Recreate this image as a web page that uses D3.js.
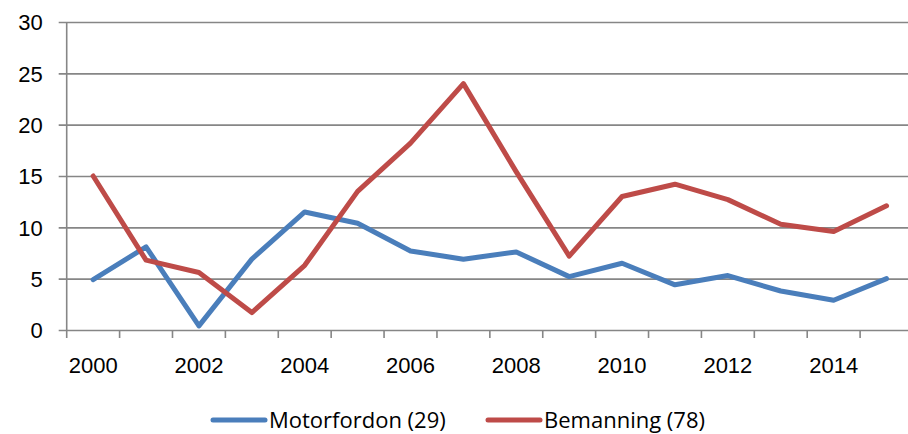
<!DOCTYPE html>
<html>
<head>
<meta charset="utf-8">
<script src="https://cdn.jsdelivr.net/npm/d3@7/dist/d3.min.js"></script>
<style>
  body { margin: 0; background: #fff; }
  svg { display: block; font-family: 'Open Sans', 'Liberation Sans', sans-serif; }
  .axis text { font-size: 22px; fill: #000; }
</style>
</head>
<body>
<div class="chart"></div>
<script>
'use strict';

var years = ['2000', '2001', '2002', '2003', '2004', '2005', '2006', '2007',
             '2008', '2009', '2010', '2011', '2012', '2013', '2014', '2015'];
var motorfordon = [4.9, 8.1, 0.4, 6.9, 11.5, 10.4, 7.7, 6.9, 7.6, 5.2, 6.5, 4.4, 5.3, 3.8, 2.9, 5.0];
var bemanning = [15.0, 6.8, 5.6, 1.7, 6.3, 13.5, 18.2, 24.0, 15.4, 7.2, 13.0, 14.2, 12.7, 10.3, 9.6, 12.1];
var seriesNames = ['Motorfordon (29)', 'Bemanning (78)'];
var yTicks = [0, 5, 10, 15, 20, 25, 30];

var width = 908, height = 434;
var margin = { top: 22, right: -5, bottom: 104, left: 66.7 };
var innerW = width - margin.left - margin.right;
var innerH = height - margin.top - margin.bottom;

var svg = d3.select('.chart').append('svg')
    .attr('width', width)
    .attr('height', height);

var g = svg.append('g')
    .attr('transform', 'translate(' + margin.left + ',' + margin.top + ')');

var x = d3.scaleBand().domain(years).range([0, innerW]).padding(0);
var y = d3.scaleLinear().domain([0, 30]).range([innerH, 0]);
var z = d3.scaleOrdinal().domain(seriesNames).range(['#4a7ebb', '#be4b48']);

// y axis with gridlines
var yAxis = d3.axisLeft(y)
    .tickValues(yTicks)
    .tickSize(-innerW)
    .tickPadding(24);

g.append('g')
    .attr('class', 'axis axis--y')
    .call(yAxis)
    .call(function(a) {
      a.select('.domain').remove();
      a.selectAll('.tick line')
          .attr('x1', -8)
          .attr('stroke', '#868686')
          .attr('stroke-width', 1.6);
      a.selectAll('.tick text').attr('dy', '0.36em');
    });

// vertical axis line
g.append('line')
    .attr('x1', 0).attr('x2', 0)
    .attr('y1', 0).attr('y2', innerH + 8)
    .attr('stroke', '#868686')
    .attr('stroke-width', 1.6);

// category boundary ticks
g.append('g')
    .selectAll('line')
    .data(years.slice(1))
    .enter().append('line')
      .attr('x1', function(d) { return x(d); })
      .attr('x2', function(d) { return x(d); })
      .attr('y1', innerH)
      .attr('y2', innerH + 8)
      .attr('stroke', '#868686')
      .attr('stroke-width', 1.6);

// x labels (every other year)
var xAxis = d3.axisBottom(x)
    .tickSize(0)
    .tickPadding(27)
    .tickFormat(function(d, i) { return i % 2 === 0 ? d : ''; });

g.append('g')
    .attr('class', 'axis axis--x')
    .attr('transform', 'translate(0,' + innerH + ')')
    .call(xAxis)
    .call(function(a) { a.select('.domain').remove(); });

var line = d3.line()
    .x(function(d, i) { return x(years[i]) + x.bandwidth() / 2; })
    .y(function(d) { return y(d); });

var series = [
  { name: seriesNames[0], values: motorfordon },
  { name: seriesNames[1], values: bemanning }
];

g.selectAll('.series')
  .data(series)
  .enter().append('path')
    .attr('class', 'series')
    .attr('fill', 'none')
    .attr('stroke', function(d) { return z(d.name); })
    .attr('stroke-width', 5)
    .attr('stroke-linejoin', 'round')
    .attr('stroke-linecap', 'round')
    .attr('d', function(d) { return line(d.values); });

// legend
var legendX = [213, 488];
var legend = svg.append('g').selectAll('g')
  .data(series)
  .enter().append('g')
    .attr('transform', function(d, i) { return 'translate(' + legendX[i] + ',420)'; });

legend.append('line')
    .attr('x1', 0).attr('x2', 52)
    .attr('stroke', function(d) { return z(d.name); })
    .attr('stroke-width', 5)
    .attr('stroke-linecap', 'round');

legend.append('text')
    .attr('x', 56)
    .attr('dy', '0.36em')
    .style('font-size', '22px')
    .text(function(d) { return d.name; });
</script>
</body>
</html>
